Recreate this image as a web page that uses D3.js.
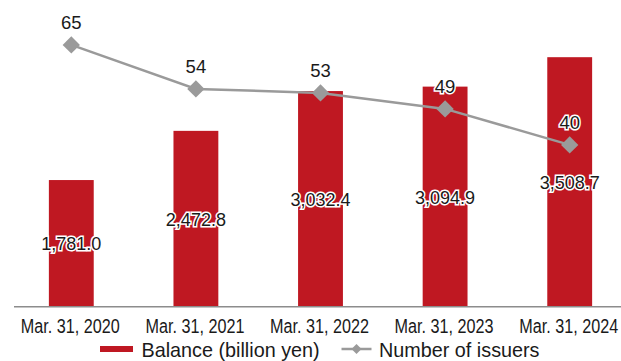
<!DOCTYPE html>
<html>
<head>
<meta charset="utf-8">
<script src="https://cdn.jsdelivr.net/npm/d3@7"></script>
<style>
  body { margin: 0; background: #fff; }
  text { font-family: "Liberation Sans", Arial, sans-serif; fill: #1a1a1a; }
</style>
</head>
<body>
<svg id="chart" width="621" height="361"></svg>
<script>
const categories = ["Mar. 31, 2020", "Mar. 31, 2021", "Mar. 31, 2022", "Mar. 31, 2023", "Mar. 31, 2024"];
const balance = [1781.0, 2472.8, 3032.4, 3094.9, 3508.7];
const issuers = [65, 54, 53, 49, 40];
const legendLabels = ["Balance (billion yen)", "Number of issuers"];

const svg = d3.select("#chart");
const baseY = 306.7, topY = -13.3;

const x = d3.scaleBand().domain(categories).range([9, 632]).paddingInner(0.64).paddingOuter(0.32);
const yBar = d3.scaleLinear().domain([0, 4500]).range([baseY, topY]);
const yLine = d3.scaleLinear().domain([0, 80]).range([baseY - 1.8, topY - 1.8]);
const cx = c => x(c) + x.bandwidth() / 2;

const red = "#bf1822", grey = "#9a9a9a";
const fmt = d3.format(",.1f");

// bars
svg.append("g").selectAll("rect").data(balance).join("rect")
    .attr("x", (d, i) => x(categories[i]))
    .attr("y", d => yBar(d))
    .attr("width", x.bandwidth())
    .attr("height", d => baseY - yBar(d))
    .attr("fill", red);

// axis line
svg.append("line")
    .attr("x1", 14).attr("x2", 621)
    .attr("y1", baseY).attr("y2", baseY)
    .attr("stroke", "#8c8c8c").attr("stroke-width", 1.5);

// category labels (narrow, like the original)
svg.append("g").selectAll("text").data(categories).join("text")
    .attr("transform", d => `translate(${cx(d) - 1},332.7) scale(0.81,1)`)
    .attr("text-anchor", "middle")
    .style("font-size", "20px")
    .text(d => d);

// line
const line = d3.line().x((d, i) => cx(categories[i])).y(d => yLine(d));
svg.append("path").datum(issuers)
    .attr("d", line)
    .attr("fill", "none")
    .attr("stroke", grey)
    .attr("stroke-width", 2.5);

const diamond = d3.symbol(d3.symbolSquare, 150);
svg.append("g").selectAll("path").data(issuers).join("path")
    .attr("d", diamond)
    .attr("transform", (d, i) => `translate(${cx(categories[i])},${yLine(d)}) rotate(45)`)
    .attr("fill", grey);

// bar value labels (with white halo)
svg.append("g").selectAll("text").data(balance).join("text")
    .attr("x", (d, i) => cx(categories[i]))
    .attr("y", d => (yBar(d) + baseY) / 2 + 7)
    .attr("text-anchor", "middle")
    .style("font-size", "18px")
    .attr("stroke", "#fff").attr("stroke-width", 3).attr("paint-order", "stroke")
    .text(d => fmt(d));

// issuer value labels
svg.append("g").selectAll("text").data(issuers).join("text")
    .attr("x", (d, i) => cx(categories[i]))
    .attr("y", d => yLine(d) - 15.5)
    .attr("text-anchor", "middle")
    .style("font-size", "18.5px")
    .attr("stroke", "#fff").attr("stroke-width", 3).attr("paint-order", "stroke")
    .text(d => d);

// legend
const lg = svg.append("g");
lg.append("rect").attr("x", 100).attr("y", 346).attr("width", 33).attr("height", 6).attr("fill", red);
lg.append("text").attr("x", 141.5).attr("y", 356.5).style("font-size", "19.8px").text(legendLabels[0]);
lg.append("line").attr("x1", 341.5).attr("x2", 371.5).attr("y1", 349).attr("y2", 349)
    .attr("stroke", grey).attr("stroke-width", 2.5);
lg.append("path").attr("d", d3.symbol(d3.symbolSquare, 50))
    .attr("transform", "translate(356.5,349) rotate(45)").attr("fill", grey);
lg.append("text").attr("x", 379).attr("y", 356.5).style("font-size", "19.8px").text(legendLabels[1]);
</script>
</body>
</html>
